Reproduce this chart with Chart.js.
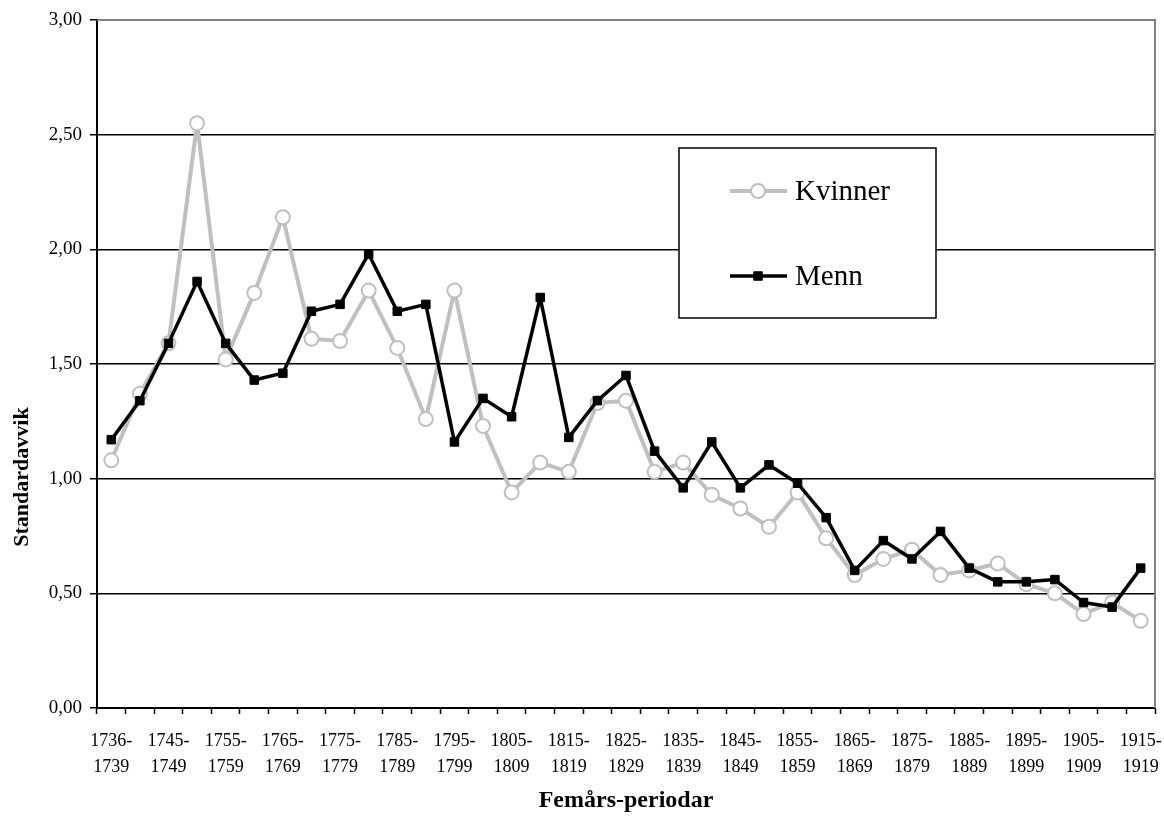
<!DOCTYPE html>
<html lang="no">
<head>
   <meta charset="UTF-8">
   <meta name="viewport" content="width=device-width, initial-scale=1.0">
   <title>Standardavvik</title>
   <style>
      body {
         margin: 0;
         background: #fff;
      }
      .chart-wrapper {
         width: 1164px;
         height: 819px;
      }
   </style>
</head>
<body>
   <div class="chart-wrapper">
      <canvas id="std-chart" width="1164" height="819"></canvas>
   </div>

   <script src="https://cdn.jsdelivr.net/npm/chart.js@4.4.1/dist/chart.umd.min.js"></script>

   <script>
      // femårs-periodar
      const periods = [
         '1736-1739', '1740-1744', '1745-1749', '1750-1754', '1755-1759', '1760-1764',
         '1765-1769', '1770-1774', '1775-1779', '1780-1784', '1785-1789', '1790-1794',
         '1795-1799', '1800-1804', '1805-1809', '1810-1814', '1815-1819', '1820-1824',
         '1825-1829', '1830-1834', '1835-1839', '1840-1844', '1845-1849', '1850-1854',
         '1855-1859', '1860-1864', '1865-1869', '1870-1874', '1875-1879', '1880-1884',
         '1885-1889', '1890-1894', '1895-1899', '1900-1904', '1905-1909', '1910-1914',
         '1915-1919'
      ];

      const kvinner = [
         1.08, 1.37, 1.59, 2.55, 1.52, 1.81, 2.14, 1.61, 1.60, 1.82, 1.57, 1.26,
         1.82, 1.23, 0.94, 1.07, 1.03, 1.33, 1.34, 1.03, 1.07, 0.93, 0.87, 0.79,
         0.94, 0.74, 0.58, 0.65, 0.69, 0.58, 0.60, 0.63, 0.54, 0.50, 0.41, 0.46,
         0.38
      ];

      const menn = [
         1.17, 1.34, 1.59, 1.86, 1.59, 1.43, 1.46, 1.73, 1.76, 1.98, 1.73, 1.76,
         1.16, 1.35, 1.27, 1.79, 1.18, 1.34, 1.45, 1.12, 0.96, 1.16, 0.96, 1.06,
         0.98, 0.83, 0.60, 0.73, 0.65, 0.77, 0.61, 0.55, 0.55, 0.56, 0.46, 0.44,
         0.61
      ];

      const yTicks = [0, 0.5, 1, 1.5, 2, 2.5, 3];

      const serif = '"Liberation Serif", "Times New Roman", serif';

      // "1736-1739" -> ["1736-", "1739"]
      let splitLabel = (p) => {
         let parts = p.split('-');
         return [parts[0] + '-', parts[1]];
      };

      // grey frame on top and right, y title, legend box
      const extras = {
         id: 'extras',
         beforeDatasetsDraw(chart) {
            const ctx = chart.ctx;
            const a = chart.chartArea;
            ctx.save();
            ctx.strokeStyle = '#808080';
            ctx.lineWidth = 2;
            ctx.beginPath();
            ctx.moveTo(a.left, a.top);
            ctx.lineTo(a.right, a.top);
            ctx.lineTo(a.right, a.bottom);
            ctx.stroke();
            ctx.restore();
         },
         afterDraw(chart) {
            const ctx = chart.ctx;
            ctx.save();

            // y axis title
            ctx.translate(22, 477);
            ctx.rotate(-Math.PI / 2);
            ctx.font = 'bold 22px ' + serif;
            ctx.fillStyle = '#000';
            ctx.textAlign = 'center';
            ctx.textBaseline = 'middle';
            ctx.fillText('Standardavvik', 0, 0);
            ctx.restore();

            // legend
            ctx.save();
            ctx.fillStyle = '#fff';
            ctx.fillRect(679, 148, 257, 170);
            ctx.strokeStyle = '#000';
            ctx.lineWidth = 1.5;
            ctx.strokeRect(679, 148, 257, 170);

            const rows = [191, 276];
            chart.data.datasets.forEach((ds, i) => {
               let y = rows[i];
               ctx.strokeStyle = ds.borderColor;
               ctx.lineWidth = ds.borderWidth;
               ctx.beginPath();
               ctx.moveTo(730, y);
               ctx.lineTo(787, y);
               ctx.stroke();

               ctx.fillStyle = ds.pointBackgroundColor;
               ctx.strokeStyle = ds.pointBorderColor;
               ctx.lineWidth = ds.pointBorderWidth;
               ctx.beginPath();
               if (ds.pointStyle === 'rect') {
                  let s = ds.pointRadius * Math.SQRT1_2;
                  ctx.rect(758 - s, y - s, 2 * s, 2 * s);
               } else {
                  ctx.arc(758, y, ds.pointRadius, 0, Math.PI * 2);
               }
               ctx.fill();
               ctx.stroke();

               ctx.fillStyle = '#000';
               ctx.font = '29px ' + serif;
               ctx.textAlign = 'left';
               ctx.textBaseline = 'middle';
               ctx.fillText(ds.label, 795, y + 1);
            });
            ctx.restore();
         }
      };

      window.onload = function () {
         let context = document.getElementById('std-chart').getContext('2d');

         new Chart(context, {
            type: 'line',
            data: {
               labels: periods.map(splitLabel),
               datasets: [
                  {
                     label: 'Kvinner',
                     data: kvinner,
                     borderColor: '#c0c0c0',
                     borderWidth: 4,
                     borderJoinStyle: 'round',
                     pointStyle: 'circle',
                     pointRadius: 7,
                     pointBorderWidth: 2,
                     pointBorderColor: '#c0c0c0',
                     pointBackgroundColor: '#fff',
                     tension: 0,
                     order: 2
                  },
                  {
                     label: 'Menn',
                     data: menn,
                     borderColor: '#000',
                     borderWidth: 3.5,
                     borderJoinStyle: 'round',
                     pointStyle: 'rect',
                     pointRadius: 6,
                     pointBorderWidth: 1,
                     pointBorderColor: '#000',
                     pointBackgroundColor: '#000',
                     tension: 0,
                     order: 1
                  }
               ]
            },
            options: {
               responsive: false,
               devicePixelRatio: 1,
               animation: false,
               layout: {
                  padding: { left: 0, right: 9, top: 20, bottom: 0 }
               },
               plugins: {
                  legend: { display: false },
                  tooltip: { enabled: false }
               },
               scales: {
                  x: {
                     type: 'category',
                     offset: true,
                     grid: {
                        offset: true,
                        drawOnChartArea: false,
                        drawTicks: true,
                        tickLength: 6,
                        tickColor: '#000',
                        tickWidth: 1.5
                     },
                     border: { color: '#000', width: 2 },
                     ticks: {
                        autoSkip: false,
                        maxRotation: 0,
                        minRotation: 0,
                        padding: 14,
                        color: '#000',
                        font: { family: serif, size: 18, lineHeight: 1.45 },
                        callback: function (value, index) {
                           return index % 2 === 0 ? this.getLabelForValue(value) : '';
                        }
                     },
                     title: {
                        display: true,
                        text: 'Femårs-periodar',
                        color: '#000',
                        font: { family: serif, size: 24, weight: 'bold' },
                        padding: { top: 0, bottom: 4 }
                     },
                     afterFit: function (scale) {
                        scale.height = 111;
                        // let the last label hang over the edge, as in the original
                        scale.paddingLeft = 0;
                        scale.paddingRight = 0;
                     }
                  },
                  y: {
                     min: 0,
                     max: 3,
                     afterBuildTicks: function (scale) {
                        scale.ticks = yTicks.map(v => ({ value: v }));
                     },
                     grid: {
                        color: (c) => c.tick && c.tick.value === 3 ? '#808080' : '#000',
                        lineWidth: 1.5,
                        drawTicks: true,
                        tickLength: 7,
                        tickColor: '#000'
                     },
                     border: { color: '#000', width: 2 },
                     ticks: {
                        padding: 8,
                        color: '#000',
                        font: { family: serif, size: 19 },
                        callback: (v) => v.toFixed(2).replace('.', ',')
                     },
                     afterFit: function (scale) {
                        scale.width = 97;
                        scale.paddingTop = 0;
                        scale.paddingBottom = 0;
                     }
                  }
               }
            },
            plugins: [extras]
         });
      };
   </script>
</body>
</html>
